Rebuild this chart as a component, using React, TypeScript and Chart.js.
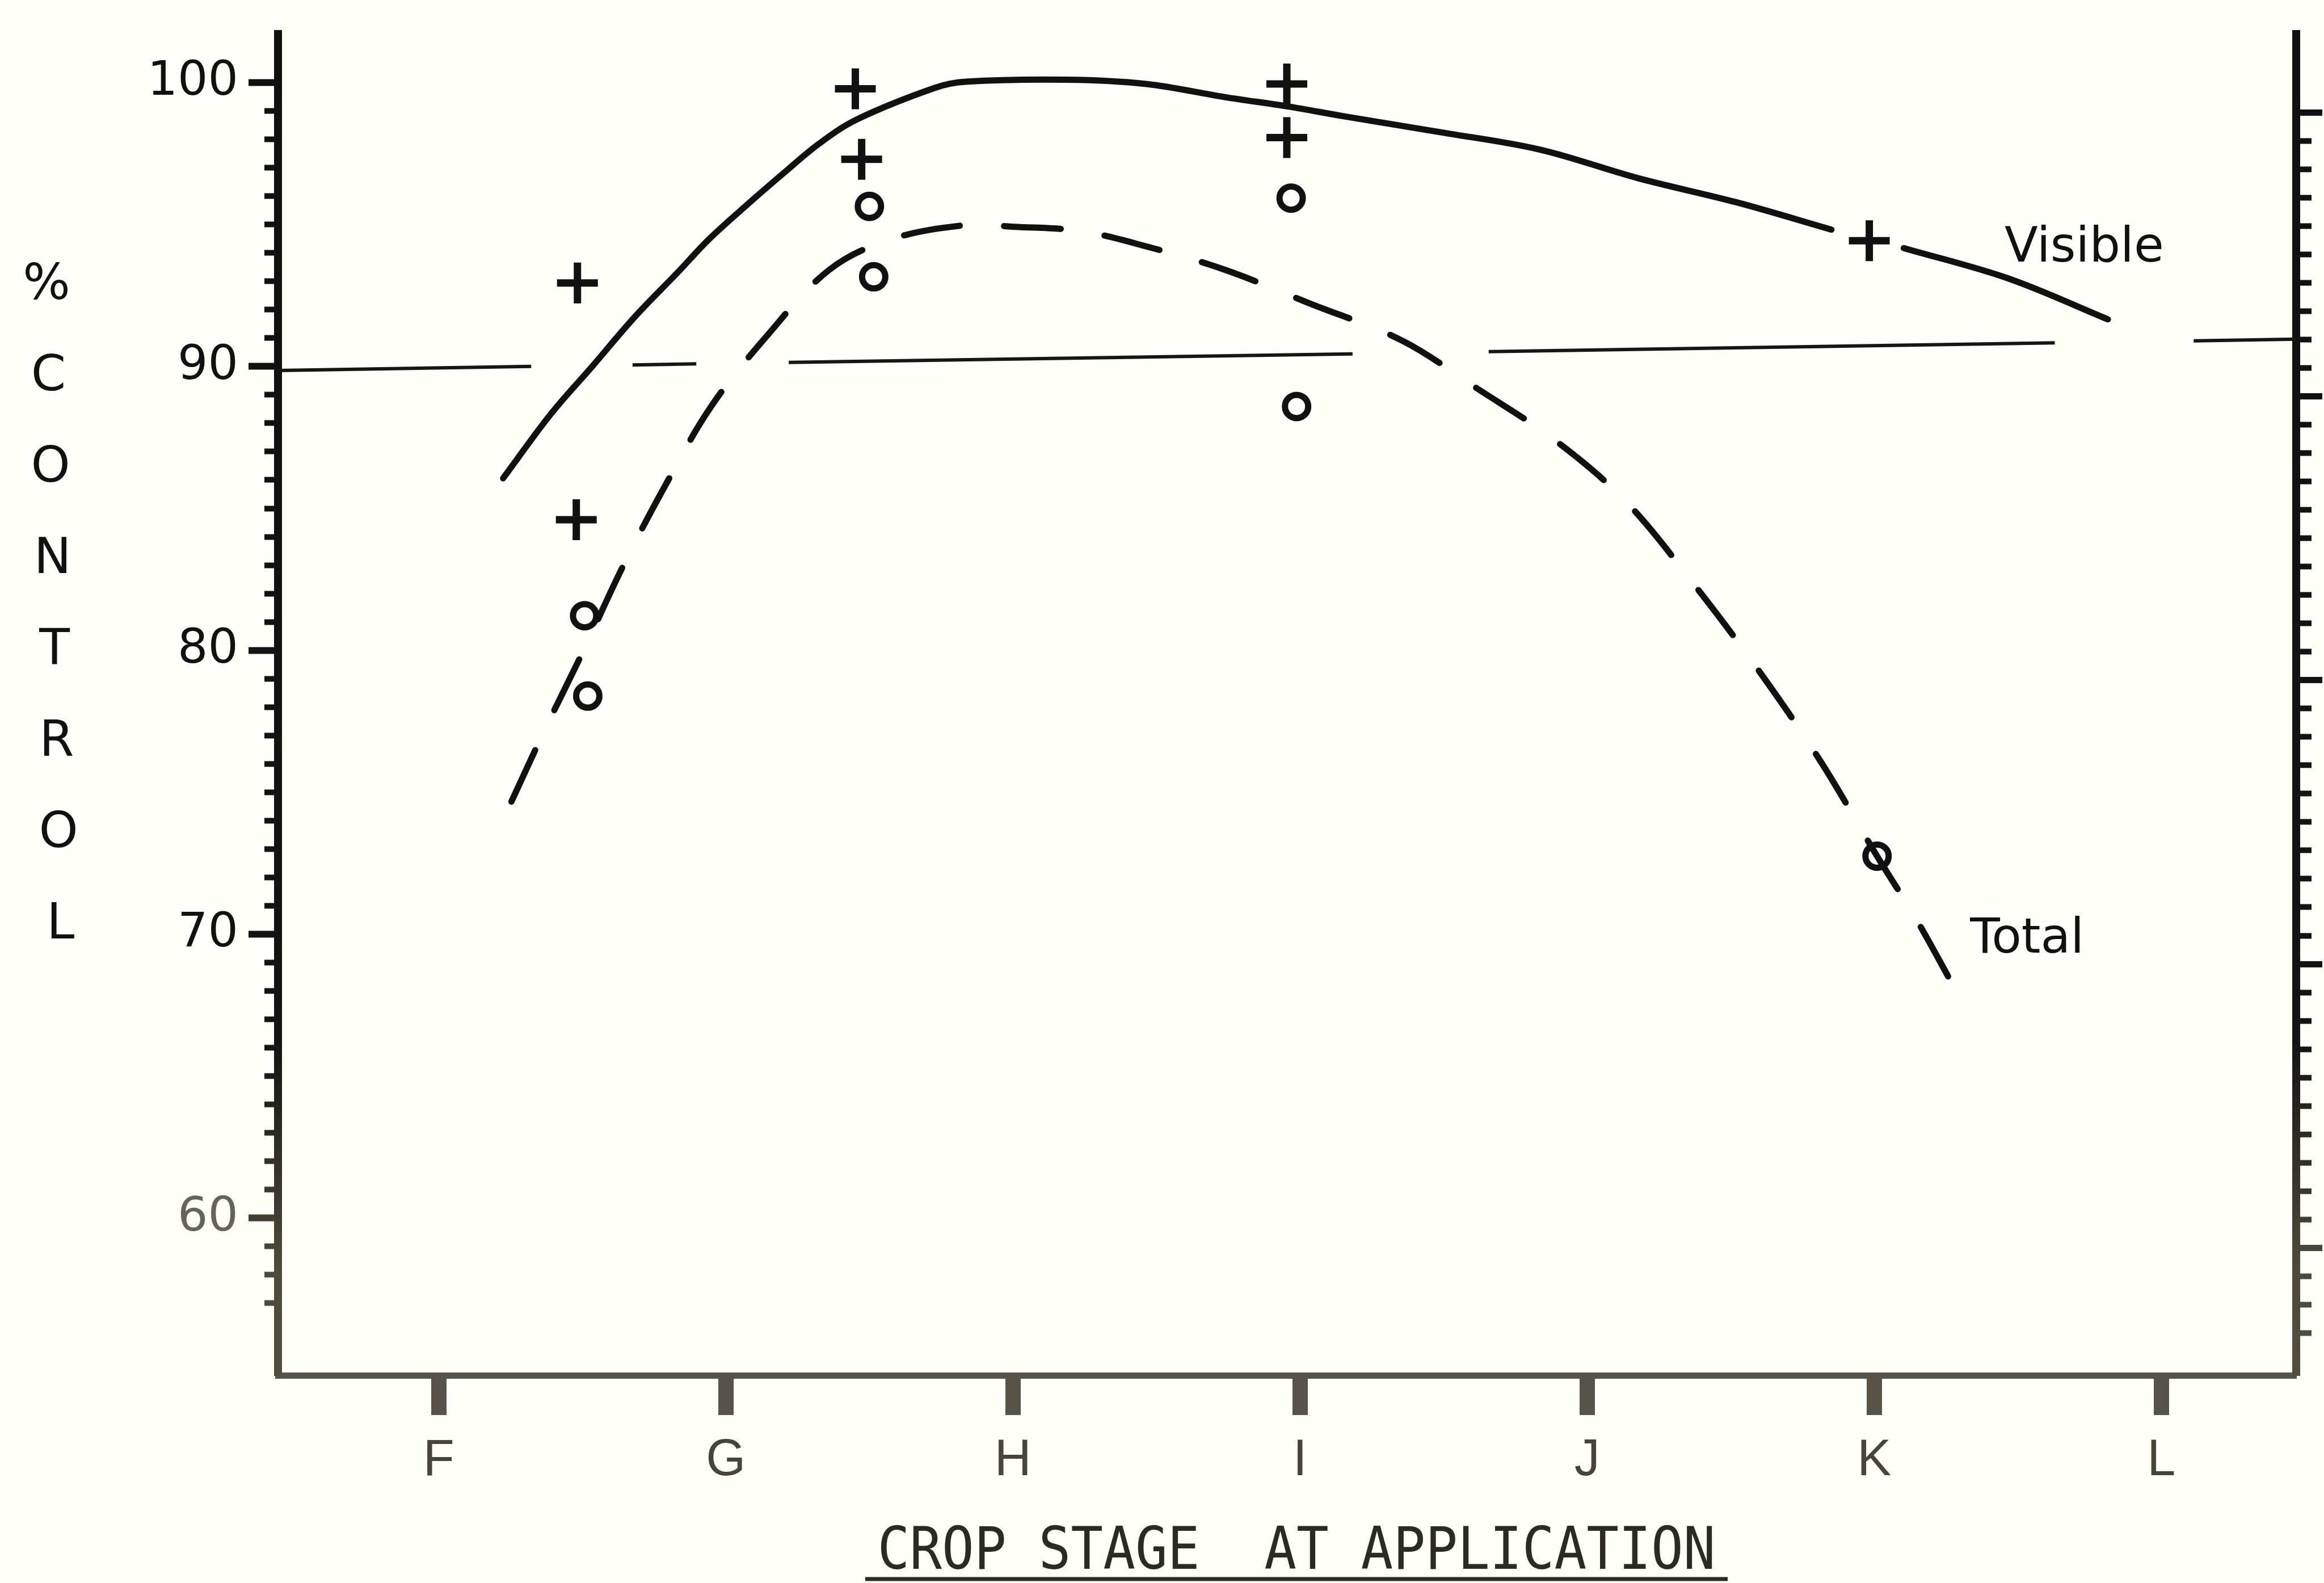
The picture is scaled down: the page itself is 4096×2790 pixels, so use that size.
import React, { useEffect, useRef } from 'react';
import { Chart, registerables } from 'chart.js';

Chart.register(...registerables);

// ---- categories / tick labels ----
const stageLabels = ['F', 'G', 'H', 'I', 'J', 'K', 'L'];
const yMajorTicks = [60, 70, 80, 90, 100];
const yMinorFrom = 57;
const yMinorTo = 100;
const yTitleLetters = ['%', 'C', 'O', 'N', 'T', 'R', 'O', 'L'];
const xTitle = 'CROP STAGE  AT APPLICATION';
const seriesNames = ['Visible', 'Total'];
const seriesLabelX = [5.454, 5.334];
const seriesLabelY = [93.7, 69.35];

// ---- fitted curves ----
const visibleCurveX = [0.224, 0.39, 0.537, 0.684, 0.831, 0.943, 1.08, 1.2, 1.325, 1.456, 1.73, 1.835, 2.188, 2.464, 2.737, 2.964, 3.149, 3.49, 3.835, 4.178, 4.521, 4.851, 4.98, 5.103, 5.467, 5.814];
const visibleCurveY = [86.06, 88.32, 90.03, 91.76, 93.3, 94.5, 95.75, 96.8, 97.85, 98.7, 99.82, 100.03, 100.1, 99.95, 99.49, 99.15, 98.82, 98.25, 97.64, 96.63, 95.78, 94.82, null, 94.17, 93.1, 91.66];

const totalCurveX = [0.253, 0.366, 0.503, 0.641, 0.788, 0.948, 1.144, 1.361, 1.575, 1.837, 2.005, 2.235, 2.464, 2.737, 3.034, 3.356, 3.613, 3.892, 4.137, 4.381, 4.616, 4.817, 5.01, 5.148, 5.278];
const totalCurveY = [74.67, 77.13, 79.97, 82.95, 85.79, 88.58, 91.09, 93.41, 94.48, 94.98, 94.92, 94.77, 94.23, 93.41, 92.22, 90.91, 89.25, 87.37, 85.22, 82.21, 79.03, 76.03, 72.75, 70.5, 68.14];

// ---- observations ----
const visibleObsX = [0.483, 0.479, 1.451, 1.473, 2.954, 2.954, 4.983];
const visibleObsY = [92.94, 84.6, 99.78, 97.3, 99.95, 98.06, 94.43];
const totalObsX = [0.508, 0.519, 1.5, 1.515, 2.969, 2.988, 5.01];
const totalObsY = [81.22, 78.39, 95.64, 93.16, 95.93, 88.59, 72.75];

// ---- 90 % reference line (broken where curves cross) ----
const refLineX = [-0.56, 0.322, 0.5, 0.675, 0.897, 1.0, 1.219, 3.183, 3.4, 3.657, 5.629, 5.9, 6.113, 6.47];
const refLineY = [89.86, 90.0, null, 90.05, 90.09, null, 90.14, 90.44, null, 90.52, 90.83, null, 90.9, 90.96];

// ---- axis ranges ----
const X_MIN = -0.56;
const X_MAX = 6.47;
const Y_MIN = 54.46;
const Y_MAX = 101.71;
const RIGHT_OFFSET = 1.05;

const W = 4096;
const H = 2790;

const pts = (xs: number[], ys: (number | null)[]) => xs.map((x, i) => ({ x, y: ys[i] }));

const minorTicks: number[] = [];
for (let v = yMinorFrom; v <= yMinorTo; v++) minorTicks.push(v);

const SANS = '"Liberation Sans", Arial, sans-serif';
const DEJA = '"DejaVu Sans", sans-serif';

export default function App() {
  const ref = useRef<HTMLCanvasElement>(null);

  useEffect(() => {
    const canvas = ref.current!;
    const c2d = canvas.getContext('2d')!;
    const axisGrad = c2d.createLinearGradient(0, 0, 0, H);
    axisGrad.addColorStop(0, '#101010');
    axisGrad.addColorStop(0.66, '#141414');
    axisGrad.addColorStop(0.8, '#4d4a3c');
    axisGrad.addColorStop(1, '#55513f');

    const textPlugin = {
      id: 'textPlugin',
      beforeDraw(chart: any) {
        const ctx = chart.ctx;
        ctx.save();
        ctx.fillStyle = '#fffffa';
        ctx.fillRect(0, 0, chart.width, chart.height);
        ctx.restore();
      },
      afterDraw(chart: any) {
        const ctx = chart.ctx;
        const sx = chart.scales.x;
        const sy = chart.scales.y;
        ctx.save();
        // vertical y-axis title
        ctx.fillStyle = '#111';
        ctx.font = `88px ${DEJA}`;
        ctx.textAlign = 'center';
        ctx.textBaseline = 'middle';
        yTitleLetters.forEach((ch, i) => {
          const y = 504 + i * 161;
          const x = 82 + (y - 504) * 0.022;
          ctx.fillText(ch, x, y);
        });
        // series labels
        ctx.font = `86px ${DEJA}`;
        ctx.textAlign = 'left';
        ctx.textBaseline = 'alphabetic';
        seriesNames.forEach((name, i) => {
          ctx.fillText(name, sx.getPixelForValue(seriesLabelX[i]), sy.getPixelForValue(seriesLabelY[i]));
        });
        // x-axis title (condensed typewriter style, underlined)
        ctx.fillStyle = '#2b2a24';
        ctx.font = '104px "DejaVu Sans Mono", monospace';
        const tw = ctx.measureText(xTitle).width;
        const targetW = 1477;
        const cx = 2285;
        ctx.save();
        ctx.translate(cx, 2765);
        ctx.scale(targetW / tw, 1);
        ctx.textAlign = 'center';
        ctx.textBaseline = 'alphabetic';
        ctx.fillText(xTitle, 0, 0);
        ctx.restore();
        ctx.strokeStyle = '#2b2a24';
        ctx.lineWidth = 7;
        ctx.beginPath();
        ctx.moveTo(cx - 760, 2783);
        ctx.lineTo(cx + 760, 2783);
        ctx.stroke();
        ctx.restore();
      },
    };

    const yCommon = {
      type: 'linear' as const,
      min: Y_MIN,
      max: Y_MAX,
    };

    const chart = new Chart(canvas, {
      type: 'scatter',
      data: {
        datasets: [
          {
            label: 'Visible curve',
            data: pts(visibleCurveX, visibleCurveY),
            showLine: true,
            borderColor: '#111',
            borderWidth: 11,
            borderCapStyle: 'round',
            borderJoinStyle: 'round',
            tension: 0.35,
            pointRadius: 0,
            spanGaps: false,
            xAxisID: 'x',
            yAxisID: 'y',
          },
          {
            label: 'Total curve',
            data: pts(totalCurveX, totalCurveY),
            showLine: true,
            borderColor: '#111',
            borderWidth: 11,
            borderDash: [100, 78],
            borderCapStyle: 'round',
            borderJoinStyle: 'round',
            tension: 0.35,
            pointRadius: 0,
            xAxisID: 'x',
            yAxisID: 'y',
          },
          {
            label: '90 line',
            data: pts(refLineX, refLineY),
            showLine: true,
            borderColor: '#161616',
            borderWidth: 6,
            tension: 0,
            pointRadius: 0,
            spanGaps: false,
            xAxisID: 'x',
            yAxisID: 'y',
          },
          {
            label: 'Visible',
            data: pts(visibleObsX, visibleObsY),
            showLine: false,
            pointStyle: 'cross',
            pointRadius: 36,
            pointBorderWidth: 13,
            pointBorderColor: '#111',
            xAxisID: 'x',
            yAxisID: 'y',
          },
          {
            label: 'Total',
            data: pts(totalObsX, totalObsY),
            showLine: false,
            pointStyle: 'circle',
            pointRadius: 20.5,
            pointBorderWidth: 11,
            pointBorderColor: '#111',
            pointBackgroundColor: 'rgba(0,0,0,0)',
            xAxisID: 'x',
            yAxisID: 'y',
          },
        ],
      },
      options: {
        animation: false,
        responsive: false,
        devicePixelRatio: 1,
        events: [],
        layout: { padding: { top: 60, left: 0, right: 0, bottom: 0 } },
        plugins: { legend: { display: false }, tooltip: { enabled: false }, title: { display: false } },
        scales: {
          x: {
            type: 'linear',
            position: 'bottom',
            min: X_MIN,
            max: X_MAX,
            afterBuildTicks: (s: any) => {
              s.ticks = stageLabels.map((_, i) => ({ value: i }));
            },
            afterFit: (s: any) => {
              s.height = 366;
              s.paddingLeft = 0;
              s.paddingRight = 0;
            },
            ticks: {
              callback: (v: any) => stageLabels[Math.round(Number(v))] ?? '',
              font: { family: SANS, size: 90 },
              color: '#47443a',
              padding: 27,
              maxRotation: 0,
              autoSkip: false,
            },
            grid: { drawOnChartArea: false, drawTicks: true, tickLength: 70, tickWidth: 27, tickColor: '#57534a' },
            border: { display: true, width: 11, color: '#57534a' },
          },
          y: {
            ...yCommon,
            position: 'left',
            weight: 1,
            afterBuildTicks: (s: any) => {
              s.ticks = yMajorTicks.map((v) => ({ value: v }));
            },
            afterFit: (s: any) => {
              s.width = 490;
              s.paddingTop = 0;
              s.paddingBottom = 0;
            },
            ticks: {
              font: { family: DEJA, size: 84 },
              color: (c: any) => (c.tick && c.tick.value === 60 ? '#66645a' : '#111'),
              padding: 18,
            },
            grid: { drawOnChartArea: false, drawTicks: true, tickLength: 52, tickWidth: 12, tickColor: axisGrad },
            border: { display: true, width: 14, color: axisGrad },
          },
          yMinor: {
            ...yCommon,
            position: 'left',
            weight: 0,
            afterBuildTicks: (s: any) => {
              s.ticks = minorTicks.map((v) => ({ value: v }));
            },
            afterFit: (s: any) => {
              s.width = 0;
              s.paddingTop = 0;
              s.paddingBottom = 0;
            },
            ticks: { display: false },
            grid: { drawOnChartArea: false, drawTicks: true, tickLength: 24, tickWidth: 10, tickColor: axisGrad },
            border: { display: false },
          },
          yRight: {
            type: 'linear',
            min: Y_MIN + RIGHT_OFFSET,
            max: Y_MAX + RIGHT_OFFSET,
            position: 'right',
            weight: 0,
            afterBuildTicks: (s: any) => {
              s.ticks = minorTicks.map((v) => ({ value: v }));
            },
            afterFit: (s: any) => {
              s.width = 0;
              s.paddingTop = 0;
              s.paddingBottom = 0;
            },
            ticks: { display: false },
            grid: { drawOnChartArea: false, drawTicks: true, tickLength: 27, tickWidth: 10, tickColor: axisGrad },
            border: { display: true, width: 14, color: axisGrad },
          },
          yRightMajor: {
            type: 'linear',
            min: Y_MIN + RIGHT_OFFSET,
            max: Y_MAX + RIGHT_OFFSET,
            position: 'right',
            weight: 1,
            afterBuildTicks: (s: any) => {
              s.ticks = yMajorTicks.map((v) => ({ value: v }));
            },
            afterFit: (s: any) => {
              s.width = 46;
              s.paddingTop = 0;
              s.paddingBottom = 0;
            },
            ticks: { display: false },
            grid: { drawOnChartArea: false, drawTicks: true, tickLength: 46, tickWidth: 11, tickColor: axisGrad },
            border: { display: false },
          },
        },
      } as any,
      plugins: [textPlugin],
    });
    return () => chart.destroy();
  }, []);

  return (
    <div style={{ position: 'absolute', left: 0, top: 0, width: W, height: H, background: '#fffffa', overflow: 'hidden' }}>
      <canvas ref={ref} width={W} height={H} style={{ display: 'block', width: W, height: H }} />
    </div>
  );
}
